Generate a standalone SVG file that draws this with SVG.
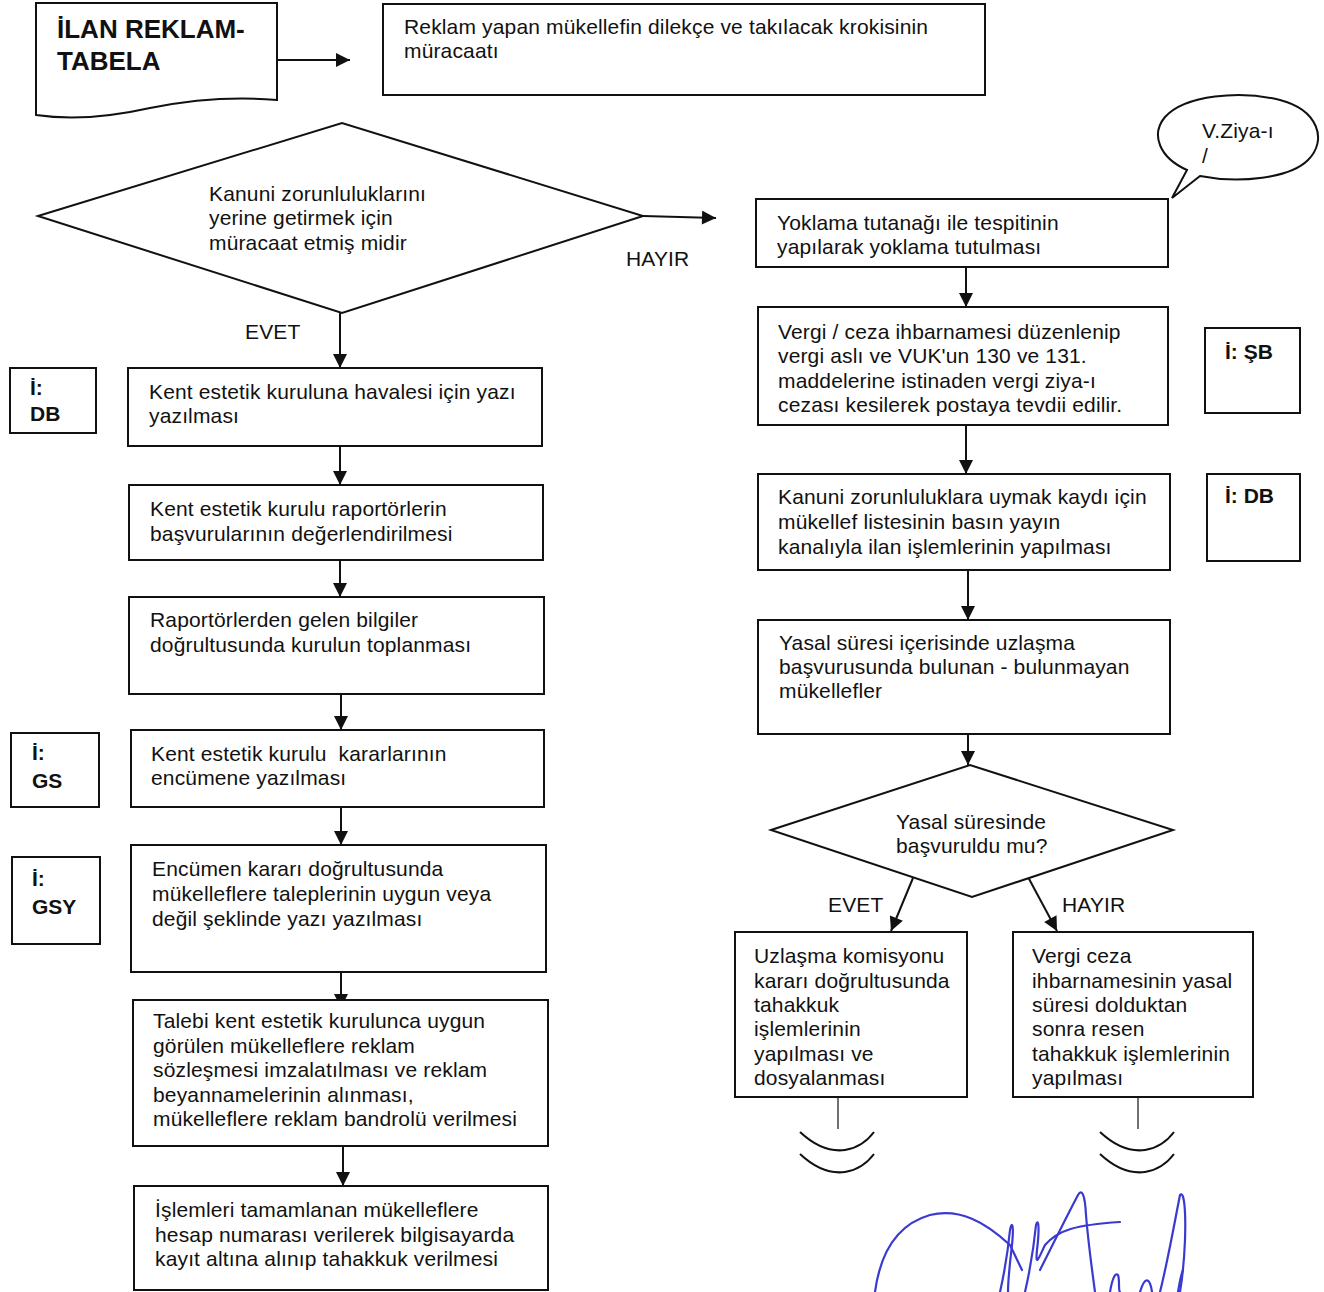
<svg xmlns="http://www.w3.org/2000/svg" width="1324" height="1292" viewBox="0 0 1324 1292">
<defs>
<marker id="ahb" viewBox="0 0 10 10" refX="10" refY="5" markerWidth="16" markerHeight="14" markerUnits="userSpaceOnUse" orient="auto">
<path d="M0,0 L10,5 L0,10 z" fill="#111"/>
</marker>
</defs>
<style>
.b{fill:#fff;stroke:#111;stroke-width:2}
.t{font-family:"Liberation Sans",Arial,sans-serif;font-size:21px;letter-spacing:0.15px;fill:#111}
.tb{font-family:"Liberation Sans",Arial,sans-serif;font-size:21px;font-weight:bold;fill:#111}
.h{font-family:"Liberation Sans",Arial,sans-serif;font-size:26px;font-weight:bold;fill:#111}
.c{fill:none;stroke:#111;stroke-width:2}
.w{fill:none;stroke:#111;stroke-width:2}
</style>
<rect width="1324" height="1292" fill="#fff"/>
<g id="connectors">
<line class="c" x1="278" y1="60" x2="350" y2="60" marker-end="url(#ahb)"/>
<line class="c" x1="643" y1="216" x2="716" y2="218" marker-end="url(#ahb)"/>
<line class="c" x1="340" y1="313" x2="340" y2="368" marker-end="url(#ahb)"/>
<line class="c" x1="340" y1="446" x2="340" y2="485" marker-end="url(#ahb)"/>
<line class="c" x1="340" y1="560" x2="340" y2="597" marker-end="url(#ahb)"/>
<line class="c" x1="341" y1="694" x2="341" y2="730" marker-end="url(#ahb)"/>
<line class="c" x1="341" y1="807" x2="341" y2="845" marker-end="url(#ahb)"/>
<line class="c" x1="341" y1="972" x2="341" y2="1008" marker-end="url(#ahb)"/>
<line class="c" x1="343" y1="1146" x2="343" y2="1186" marker-end="url(#ahb)"/>
<line class="c" x1="966" y1="267" x2="966" y2="307" marker-end="url(#ahb)"/>
<line class="c" x1="966" y1="425" x2="966" y2="474" marker-end="url(#ahb)"/>
<line class="c" x1="968" y1="570" x2="968" y2="620" marker-end="url(#ahb)"/>
<line class="c" x1="968" y1="734" x2="968" y2="765" marker-end="url(#ahb)"/>
<line class="c" x1="913" y1="878" x2="891" y2="931" marker-end="url(#ahb)"/>
<line class="c" x1="1028" y1="877" x2="1057" y2="931" marker-end="url(#ahb)"/>
<line x1="838" y1="1097" x2="838" y2="1129" stroke="#111" stroke-width="1.2"/>
<line x1="1138" y1="1097" x2="1138" y2="1129" stroke="#111" stroke-width="1.2"/>
<path class="w" d="M800,1132 C815,1146 830,1152 845,1150 C858,1148 868,1140 874,1132"/>
<path class="w" d="M800,1154 C815,1168 830,1174 845,1172 C858,1170 868,1162 874,1154"/>
<path class="w" d="M1100,1132 C1115,1146 1130,1152 1145,1150 C1158,1148 1168,1140 1174,1132"/>
<path class="w" d="M1100,1154 C1115,1168 1130,1174 1145,1172 C1158,1170 1168,1162 1174,1154"/>
</g>
<text class="t" x="626" y="266">HAYIR</text>
<text class="t" x="245" y="339">EVET</text>
<text class="t" x="828" y="912">EVET</text>
<text class="t" x="1062" y="912">HAYIR</text>
<g id="doc">
<path class="b" d="M36,3 L277,3 L277,100 C230,96 190,100 150,108 C110,117 70,120 36,115 Z"/>
<text class="h" x="57" y="38">İLAN REKLAM-</text>
<text class="h" x="57" y="70">TABELA</text>
</g>
<g id="n1">
<rect class="b" x="383" y="4" width="602" height="91"/>
<text class="t" x="404" y="34">Reklam yapan mükellefin dilekçe ve takılacak krokisinin</text>
<text class="t" x="404" y="58">müracaatı</text>
</g>
<g id="d1">
<polygon class="b" points="38,216 342,123 643,216 342,313"/>
<text class="t" x="209" y="201">Kanuni zorunluluklarını</text>
<text class="t" x="209" y="225">yerine getirmek için</text>
<text class="t" x="209" y="250">müracaat etmiş midir</text>
</g>
<g id="n2">
<rect class="b" x="128" y="368" width="414" height="78"/>
<text class="t" x="149" y="399">Kent estetik kuruluna havalesi için yazı</text>
<text class="t" x="149" y="423">yazılması</text>
</g>
<g id="s1">
<rect class="b" x="10" y="368" width="86" height="65"/>
<text class="tb" x="30" y="395">İ:</text>
<text class="tb" x="30" y="421">DB</text>
</g>
<g id="n3">
<rect class="b" x="129" y="485" width="414" height="75"/>
<text class="t" x="150" y="516">Kent estetik kurulu raportörlerin</text>
<text class="t" x="150" y="541">başvurularının değerlendirilmesi</text>
</g>
<g id="n4">
<rect class="b" x="129" y="597" width="415" height="97"/>
<text class="t" x="150" y="627">Raportörlerden gelen bilgiler</text>
<text class="t" x="150" y="652">doğrultusunda kurulun toplanması</text>
</g>
<g id="n5">
<rect class="b" x="131" y="730" width="413" height="77"/>
<text class="t" x="151" y="761" xml:space="preserve">Kent estetik kurulu  kararlarının</text>
<text class="t" x="151" y="785">encümene yazılması</text>
</g>
<g id="s2">
<rect class="b" x="11" y="733" width="88" height="74"/>
<text class="tb" x="32" y="760">İ:</text>
<text class="tb" x="32" y="788">GS</text>
</g>
<g id="n6">
<rect class="b" x="131" y="845" width="415" height="127"/>
<text class="t" x="152" y="876">Encümen kararı doğrultusunda</text>
<text class="t" x="152" y="901">mükelleflere taleplerinin uygun veya</text>
<text class="t" x="152" y="926">değil şeklinde yazı yazılması</text>
</g>
<g id="s3">
<rect class="b" x="12" y="857" width="88" height="87"/>
<text class="tb" x="32" y="886">İ:</text>
<text class="tb" x="32" y="914">GSY</text>
</g>
<g id="n7">
<rect class="b" x="133" y="1000" width="415" height="146"/>
<text class="t" x="153" y="1028">Talebi kent estetik kurulunca uygun</text>
<text class="t" x="153" y="1053">görülen mükelleflere reklam</text>
<text class="t" x="153" y="1077">sözleşmesi imzalatılması ve reklam</text>
<text class="t" x="153" y="1102">beyannamelerinin alınması,</text>
<text class="t" x="153" y="1126">mükelleflere reklam bandrolü verilmesi</text>
</g>
<g id="n8">
<rect class="b" x="134" y="1186" width="414" height="104"/>
<text class="t" x="155" y="1217">İşlemleri tamamlanan mükelleflere</text>
<text class="t" x="155" y="1242">hesap numarası verilerek bilgisayarda</text>
<text class="t" x="155" y="1266">kayıt altına alınıp tahakkuk verilmesi</text>
</g>
<g id="bubble">
<path class="b" d="M1187,170 C1160,158 1150,135 1165,117 C1185,95 1240,90 1280,100 C1318,110 1328,140 1308,160 C1290,178 1240,184 1200,176 L1172,198 Z"/>
<text class="t" x="1202" y="138">V.Ziya-ı</text>
<text class="t" x="1202" y="163">/</text>
</g>
<g id="r1">
<rect class="b" x="756" y="199" width="412" height="68"/>
<text class="t" x="777" y="230">Yoklama tutanağı ile tespitinin</text>
<text class="t" x="777" y="254">yapılarak yoklama tutulması</text>
</g>
<g id="r2">
<rect class="b" x="758" y="307" width="410" height="118"/>
<text class="t" x="778" y="339">Vergi / ceza ihbarnamesi düzenlenip</text>
<text class="t" x="778" y="363">vergi aslı ve VUK'un 130 ve 131.</text>
<text class="t" x="778" y="388">maddelerine istinaden vergi ziya-ı</text>
<text class="t" x="778" y="412">cezası kesilerek postaya tevdii edilir.</text>
</g>
<g id="s4">
<rect class="b" x="1205" y="328" width="95" height="85"/>
<text class="tb" x="1225" y="359">İ: ŞB</text>
</g>
<g id="r3">
<rect class="b" x="758" y="474" width="412" height="96"/>
<text class="t" x="778" y="504">Kanuni zorunluluklara uymak kaydı için</text>
<text class="t" x="778" y="529">mükellef listesinin basın yayın</text>
<text class="t" x="778" y="554">kanalıyla ilan işlemlerinin yapılması</text>
</g>
<g id="s5">
<rect class="b" x="1207" y="474" width="93" height="87"/>
<text class="tb" x="1225" y="503">İ: DB</text>
</g>
<g id="r4">
<rect class="b" x="758" y="620" width="412" height="114"/>
<text class="t" x="779" y="650">Yasal süresi içerisinde uzlaşma</text>
<text class="t" x="779" y="674">başvurusunda bulunan - bulunmayan</text>
<text class="t" x="779" y="698">mükellefler</text>
</g>
<g id="d2">
<polygon class="b" points="771,830 970,765 1173,830 972,897"/>
<text class="t" x="896" y="829">Yasal süresinde</text>
<text class="t" x="896" y="853">başvuruldu mu?</text>
</g>
<g id="r5">
<rect class="b" x="735" y="932" width="232" height="165"/>
<text class="t" x="754" y="963">Uzlaşma komisyonu</text>
<text class="t" x="754" y="988">kararı doğrultusunda</text>
<text class="t" x="754" y="1012">tahakkuk</text>
<text class="t" x="754" y="1036">işlemlerinin</text>
<text class="t" x="754" y="1061">yapılması ve</text>
<text class="t" x="754" y="1085">dosyalanması</text>
</g>
<g id="r6">
<rect class="b" x="1013" y="932" width="240" height="165"/>
<text class="t" x="1032" y="963">Vergi ceza</text>
<text class="t" x="1032" y="988">ihbarnamesinin yasal</text>
<text class="t" x="1032" y="1012">süresi dolduktan</text>
<text class="t" x="1032" y="1036">sonra resen</text>
<text class="t" x="1032" y="1061">tahakkuk işlemlerinin</text>
<text class="t" x="1032" y="1085">yapılması</text>
</g>
<g id="signature" fill="none" stroke="#3a3ad0" stroke-width="2.2" stroke-linecap="round" stroke-linejoin="round">
<path d="M875,1292 C880,1255 895,1225 930,1215 C960,1208 985,1222 1010,1245 L1022,1270"/>
<path d="M1000,1292 C1005,1270 1008,1250 1010,1230 C1012,1220 1014,1225 1012,1245 C1010,1262 1008,1280 1008,1292"/>
<path d="M1025,1292 C1030,1270 1034,1245 1036,1225 C1038,1218 1040,1225 1037,1250 C1035,1270 1040,1255 1045,1245 C1058,1230 1075,1225 1120,1222"/>
<path d="M1040,1270 C1055,1240 1070,1210 1078,1195 C1082,1188 1085,1195 1086,1215 C1088,1240 1092,1270 1095,1292"/>
<path d="M1110,1292 C1112,1280 1115,1272 1118,1275 C1120,1280 1118,1290 1120,1292"/>
<path d="M1140,1292 C1145,1275 1150,1278 1152,1292"/>
<path d="M1160,1292 C1168,1260 1175,1220 1180,1195 C1184,1190 1186,1210 1185,1240 C1184,1265 1182,1280 1180,1292"/>
<path d="M1178,1292 C1180,1280 1182,1272 1183,1270"/>
</g>
</svg>
